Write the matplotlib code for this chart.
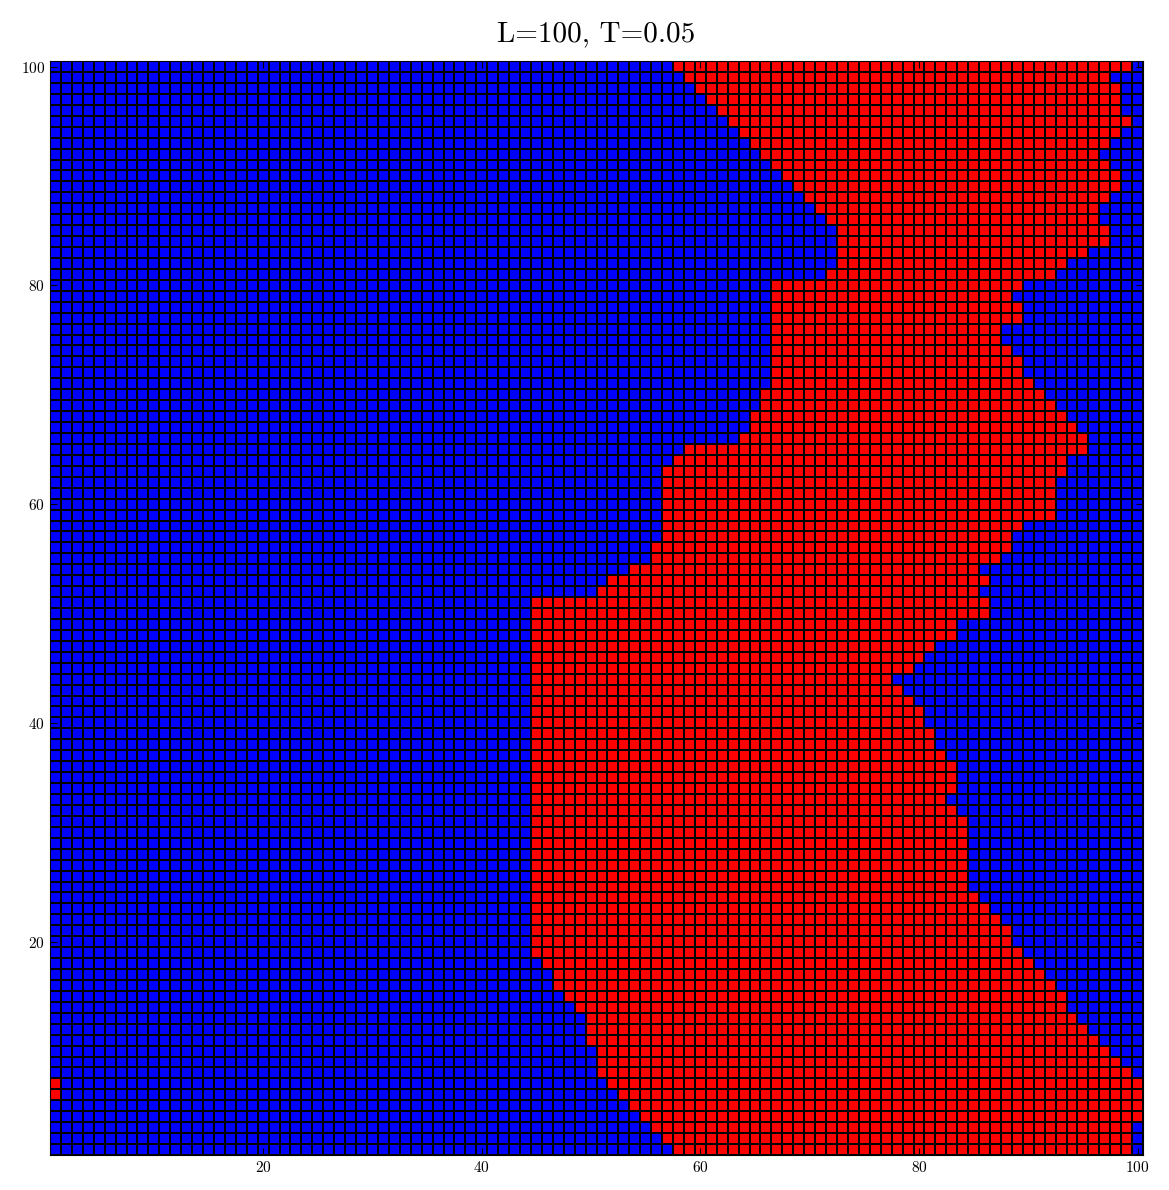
import numpy as np
import matplotlib
matplotlib.use("Agg")
import matplotlib.pyplot as plt
from matplotlib.colors import ListedColormap

plt.rcParams['mathtext.fontset'] = 'cm'
plt.rcParams['font.family'] = 'serif'
plt.rcParams['font.serif'] = ['cmr10', 'DejaVu Serif']
plt.rcParams['axes.formatter.use_mathtext'] = True

L = 100
T = 0.05

# first and last red (spin up) column in each row, rows 1..100 from bottom
red_start = ([58, 57, 56, 55, 54, 53, 52, 51, 51, 51,
              50, 50, 50, 49, 48, 47, 47, 46]
             + [45] * 33
             + [51, 52, 54, 56, 56]
             + [57] * 7
             + [58, 59, 64, 65, 65, 66, 66]
             + [67] * 10
             + [72, 73, 73, 73, 73, 72, 71, 70, 69, 68,
                67, 66, 65, 64, 63, 62, 61, 60, 59, 58])

red_end = [99, 99, 99, 100, 100, 100, 100, 99, 98, 97,
           96, 95, 94, 93, 93, 92, 91, 90, 89, 88,
           88, 87, 86, 85, 84, 84, 84, 84, 84, 84,
           84, 83, 82, 83, 83, 83, 82, 81, 81, 80,
           80, 79, 78, 77, 79, 80, 81, 83, 83, 86,
           86, 85, 86, 85, 87, 88, 88, 89, 92, 92,
           92, 92, 93, 93, 95, 95, 94, 93, 92, 91,
           90, 89, 89, 88, 87, 87, 89, 89, 88, 89,
           92, 93, 95, 97, 97, 96, 96, 97, 98, 98,
           97, 96, 97, 98, 99, 98, 98, 98, 97, 99]

# isolated up spins (column, row)
extra_red = [(1, 6), (1, 7)]

spins = np.zeros((L, L))
for r in range(L):
    spins[r, red_start[r] - 1:red_end[r]] = 1
for c, r in extra_red:
    spins[r - 1, c - 1] = 1

fig = plt.figure(figsize=(11.69, 11.90), dpi=100)
ax = fig.add_axes([0.0428, 0.0294, 0.935, 0.9193])
edges = np.arange(0.5, L + 1)
ax.pcolormesh(edges, edges, spins, cmap=ListedColormap(['#0000ff', '#ff0000']),
              edgecolors='k', linewidth=1.4)
ax.set_xlim(0.5, L + 0.5)
ax.set_ylim(0.5, L + 0.5)
ax.set_xticks([20, 40, 60, 80, 100])
ax.set_yticks([20, 40, 60, 80, 100])
ax.tick_params(direction='in', top=True, right=True, length=5, labelsize=11)
ax.set_title('L=%d, T=%.2f' % (L, T), fontsize=21, pad=14)

fig.savefig("out.png", dpi=100)
